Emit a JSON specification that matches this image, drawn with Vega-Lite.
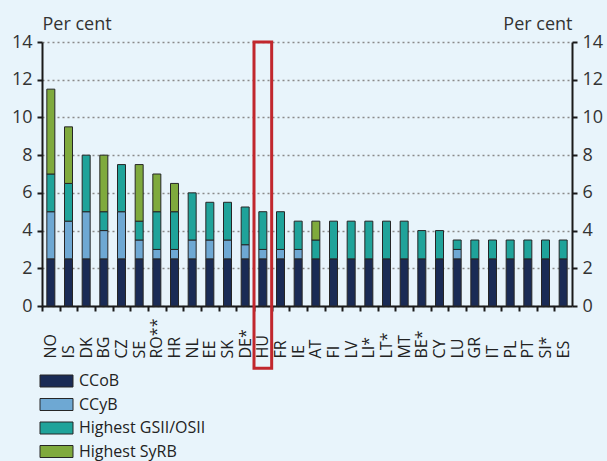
{
  "$schema": "https://vega.github.io/schema/vega-lite/v6.json",
  "width": 530,
  "height": 264,
  "autosize": {"type": "none"},
  "padding": {"left": 42, "top": 42, "right": 35, "bottom": 155},
  "background": "#E8F4FB",
  "config": {
    "view": {"stroke": null},
    "font": "Open Sans",
    "axis": {
      "labelFont": "Open Sans",
      "titleFont": "Open Sans",
      "labelFontSize": 18,
      "labelColor": "#333333",
      "titleFontSize": 18,
      "titleFontWeight": "normal",
      "titleColor": "#333333",
      "domainColor": "#1a1a1a",
      "domainWidth": 2,
      "tickColor": "#1a1a1a",
      "tickWidth": 2,
      "tickSize": 5
    },
    "legend": {
      "labelFont": "Open Sans",
      "labelFontSize": 16,
      "labelColor": "#222222"
    }
  },
  "data": {
    "values": [
      {"c": "NO", "CCoB": 2.5, "CCyB": 2.5, "Highest GSII/OSII": 2, "Highest SyRB": 4.5},
      {"c": "IS", "CCoB": 2.5, "CCyB": 2, "Highest GSII/OSII": 2, "Highest SyRB": 3},
      {"c": "DK", "CCoB": 2.5, "CCyB": 2.5, "Highest GSII/OSII": 3, "Highest SyRB": 0},
      {"c": "BG", "CCoB": 2.5, "CCyB": 1.5, "Highest GSII/OSII": 1, "Highest SyRB": 3},
      {"c": "CZ", "CCoB": 2.5, "CCyB": 2.5, "Highest GSII/OSII": 2.5, "Highest SyRB": 0},
      {"c": "SE", "CCoB": 2.5, "CCyB": 1, "Highest GSII/OSII": 1, "Highest SyRB": 3},
      {"c": "RO**", "CCoB": 2.5, "CCyB": 0.5, "Highest GSII/OSII": 2, "Highest SyRB": 2},
      {"c": "HR", "CCoB": 2.5, "CCyB": 0.5, "Highest GSII/OSII": 2, "Highest SyRB": 1.5},
      {"c": "NL", "CCoB": 2.5, "CCyB": 1, "Highest GSII/OSII": 2.5, "Highest SyRB": 0},
      {"c": "EE", "CCoB": 2.5, "CCyB": 1, "Highest GSII/OSII": 2, "Highest SyRB": 0},
      {"c": "SK", "CCoB": 2.5, "CCyB": 1, "Highest GSII/OSII": 2, "Highest SyRB": 0},
      {"c": "DE*", "CCoB": 2.5, "CCyB": 0.75, "Highest GSII/OSII": 2, "Highest SyRB": 0},
      {"c": "HU", "CCoB": 2.5, "CCyB": 0.5, "Highest GSII/OSII": 2, "Highest SyRB": 0},
      {"c": "FR", "CCoB": 2.5, "CCyB": 0.5, "Highest GSII/OSII": 2, "Highest SyRB": 0},
      {"c": "IE", "CCoB": 2.5, "CCyB": 0.5, "Highest GSII/OSII": 1.5, "Highest SyRB": 0},
      {"c": "AT", "CCoB": 2.5, "CCyB": 0, "Highest GSII/OSII": 1, "Highest SyRB": 1},
      {"c": "FI", "CCoB": 2.5, "CCyB": 0, "Highest GSII/OSII": 2, "Highest SyRB": 0},
      {"c": "LV", "CCoB": 2.5, "CCyB": 0, "Highest GSII/OSII": 2, "Highest SyRB": 0},
      {"c": "LI*", "CCoB": 2.5, "CCyB": 0, "Highest GSII/OSII": 2, "Highest SyRB": 0},
      {"c": "LT*", "CCoB": 2.5, "CCyB": 0, "Highest GSII/OSII": 2, "Highest SyRB": 0},
      {"c": "MT", "CCoB": 2.5, "CCyB": 0, "Highest GSII/OSII": 2, "Highest SyRB": 0},
      {"c": "BE*", "CCoB": 2.5, "CCyB": 0, "Highest GSII/OSII": 1.5, "Highest SyRB": 0},
      {"c": "CY", "CCoB": 2.5, "CCyB": 0, "Highest GSII/OSII": 1.5, "Highest SyRB": 0},
      {"c": "LU", "CCoB": 2.5, "CCyB": 0.5, "Highest GSII/OSII": 0.5, "Highest SyRB": 0},
      {"c": "GR", "CCoB": 2.5, "CCyB": 0, "Highest GSII/OSII": 1, "Highest SyRB": 0},
      {"c": "IT", "CCoB": 2.5, "CCyB": 0, "Highest GSII/OSII": 1, "Highest SyRB": 0},
      {"c": "PL", "CCoB": 2.5, "CCyB": 0, "Highest GSII/OSII": 1, "Highest SyRB": 0},
      {"c": "PT", "CCoB": 2.5, "CCyB": 0, "Highest GSII/OSII": 1, "Highest SyRB": 0},
      {"c": "SI*", "CCoB": 2.5, "CCyB": 0, "Highest GSII/OSII": 1, "Highest SyRB": 0},
      {"c": "ES", "CCoB": 2.5, "CCyB": 0, "Highest GSII/OSII": 1, "Highest SyRB": 0}
    ]
  },
  "layer": [
    {
      "transform": [
        {"fold": ["CCoB", "CCyB", "Highest GSII/OSII", "Highest SyRB"], "as": ["component", "value"]},
        {"filter": "datum.value > 0"}
      ],
      "mark": {"type": "bar", "width": 8, "stroke": "#262626", "strokeWidth": 1},
      "encoding": {
        "x": {
          "field": "c",
          "type": "nominal",
          "sort": null,
          "scale": {
            "domain": ["NO", "IS", "DK", "BG", "CZ", "SE", "RO**", "HR", "NL", "EE", "SK", "DE*", "HU", "FR", "IE", "AT", "FI", "LV", "LI*", "LT*", "MT", "BE*", "CY", "LU", "GR", "IT", "PL", "PT", "SI*", "ES"],
            "paddingInner": 0,
            "paddingOuter": 0
          },
          "axis": {
            "title": null,
            "labelAngle": -90,
            "labelAlign": "left",
            "labelBaseline": "middle",
            "labelPadding": 47,
            "labelFontSize": 16,
            "tickOffset": -8.833,
            "labelOffset": 8.833,
            "labelColor": "#222222"
          }
        },
        "y": {
          "field": "value",
          "type": "quantitative",
          "stack": "zero",
          "scale": {"domain": [0, 14], "nice": false},
          "axis": {
            "orient": "left",
            "values": [0, 2, 4, 6, 8, 10, 12, 14],
            "grid": true,
            "gridDash": [2, 3],
            "gridColor": "#8a8a8a",
            "gridWidth": 1.3,
            "labelPadding": 5,
            "title": "Per cent",
            "titleAngle": 0,
            "titleAlign": "left",
            "titleBaseline": "alphabetic",
            "titleX": 0,
            "titleY": -13
          }
        },
        "color": {
          "field": "component",
          "type": "nominal",
          "scale": {
            "domain": ["CCoB", "CCyB", "Highest GSII/OSII", "Highest SyRB"],
            "range": ["#1A2B55", "#6EA8D3", "#1FA39A", "#7FAA3D"]
          },
          "legend": {
            "title": null,
            "orient": "none",
            "legendX": 6.5,
            "legendY": 331,
            "symbolType": "M-2.75,-1H2.75V1H-2.75Z",
            "symbolSize": 144,
            "symbolStrokeColor": "#262626",
            "symbolStrokeWidth": 1,
            "symbolOpacity": 1,
            "rowPadding": 7.5,
            "labelOffset": 14.5
          }
        },
        "order": {"field": "component", "sort": "ascending"}
      }
    },
    {
      "transform": [{"filter": "datum.c == 'HU'"}],
      "mark": {"type": "rect", "fill": null, "fillOpacity": 0, "stroke": "#C1272D", "strokeWidth": 3},
      "encoding": {
        "x": {"field": "c", "type": "nominal", "sort": null},
        "y": {
          "datum": 14,
          "type": "quantitative",
          "scale": {"domain": [0, 14], "nice": false},
          "axis": {
            "orient": "right",
            "values": [0, 2, 4, 6, 8, 10, 12, 14],
            "grid": false,
            "labelPadding": 5,
            "title": "Per cent",
            "titleAngle": 0,
            "titleAlign": "right",
            "titleBaseline": "alphabetic",
            "titleX": 0,
            "titleY": -13
          }
        },
        "y2": {"datum": -3.3}
      }
    }
  ],
  "resolve": {"axis": {"y": "independent"}}
}
